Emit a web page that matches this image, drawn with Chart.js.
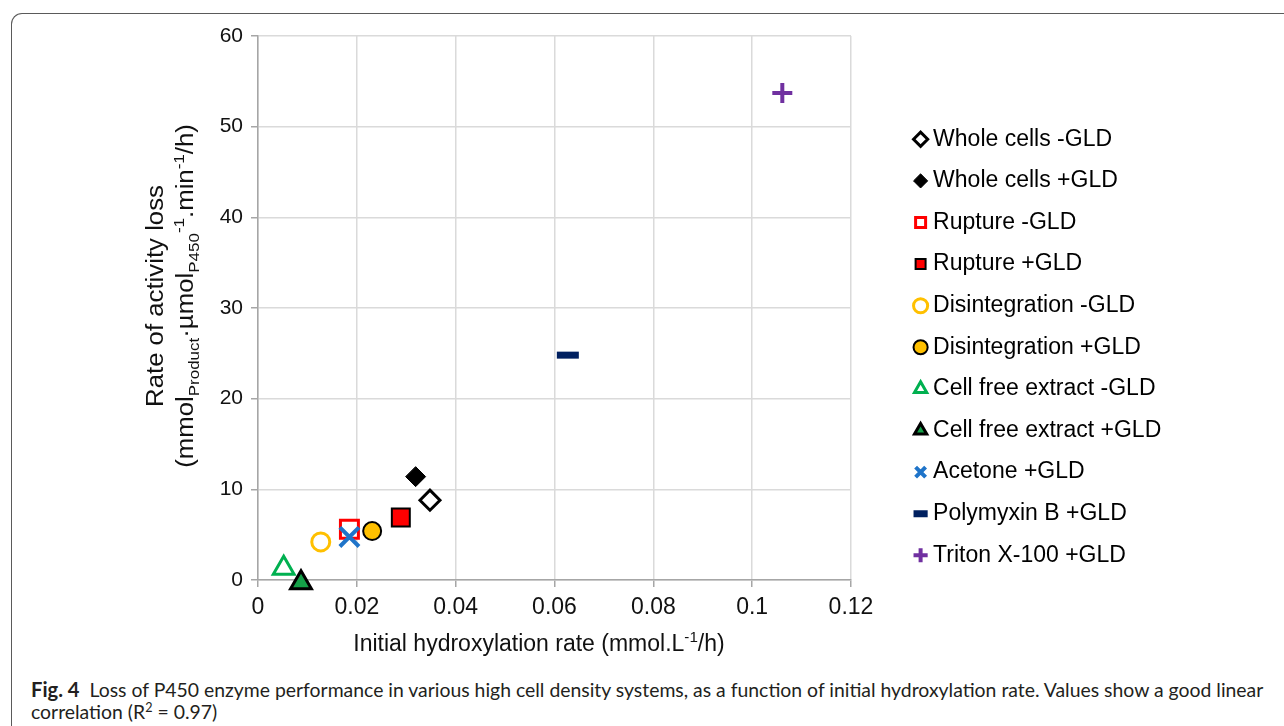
<!DOCTYPE html>
<html>
<head>
<meta charset="utf-8">
<script src="https://cdn.jsdelivr.net/npm/chart.js@4.4.1/dist/chart.umd.min.js"></script>
<style>
  html, body { margin: 0; padding: 0; background: #fff; }
  body { width: 1284px; height: 726px; position: relative; overflow: hidden; font-family: 'Liberation Sans', Arial, sans-serif; color: #111; }
  #card { position: absolute; left: 11px; top: 13px; width: 1300px; height: 760px; border-top: 1.5px solid #5a5a5a; border-left: 1.5px solid #5a5a5a; border-top-left-radius: 11px; }
  #chart { position: absolute; left: 0; top: 0; }
  .axis-title { position: absolute; white-space: nowrap; font-size: 23px; line-height: 26px; color: #111; }
  .axis-title sub, .axis-title sup { font-size: 0.66em; line-height: 0; }
  .rot { transform: translate(-50%, -50%) rotate(-90deg) scaleX(1.12); }
  #x-title { left: 339px; top: 630px; width: 400px; text-align: center; }
  #caption { position: absolute; left: 31px; top: 678px; font-family: Lato, 'Open Sans', sans-serif; font-size: 19.4px; line-height: 22px; color: #231f20; white-space: nowrap; }
  #caption b { font-weight: 700; font-size: 1.04em; }
  #caption sup { font-size: 0.65em; line-height: 0; }
</style>
</head>
<body>
<div id="card"></div>
<canvas id="chart" width="1284" height="630"></canvas>
<div class="axis-title rot" style="left:155px; top:296px;">Rate of activity loss</div>
<div class="axis-title rot" style="left:185px; top:296px;">(mmol<sub>Product</sub>·µmol<sub>P450</sub><sup>-1</sup>.min<sup>-1</sup>/h)</div>
<div class="axis-title" id="x-title">Initial hydroxylation rate (mmol.L<sup>-1</sup>/h)</div>
<div id="caption"><b>Fig. 4</b>&nbsp; Loss of P450 enzyme performance in various high cell density systems, as a function of initial hydroxylation rate. Values show a good linear<br>correlation (R<sup>2</sup> = 0.97)</div>
<script>
// ─── Data ───
const seriesNames = [
  'Whole cells -GLD', 'Whole cells +GLD', 'Rupture -GLD', 'Rupture +GLD',
  'Disintegration -GLD', 'Disintegration +GLD', 'Cell free extract -GLD',
  'Cell free extract +GLD', 'Acetone +GLD', 'Polymyxin B +GLD', 'Triton X-100 +GLD'
];
const hydroxylationRate = [0.0348, 0.0319, 0.0185, 0.0289, 0.0127, 0.0231, 0.0052, 0.0087, 0.0185, 0.0627, 0.1061];
const activityLossRate = [8.8, 11.4, 5.6, 6.9, 4.2, 5.4, 1.3, -0.3, 4.75, 24.8, 53.7];
const xTickLabels = ['0', '0.02', '0.04', '0.06', '0.08', '0.1', '0.12'];
const yTickLabels = ['0', '10', '20', '30', '40', '50', '60'];

// Marker look per series (same order as seriesNames)
const markers = [
  { style: 'rectRot',  fill: '#ffffff', stroke: '#000000', width: 3, r: 10 },
  { style: 'rectRot',  fill: '#000000', stroke: '#000000', width: 1, r: 10 },
  { style: 'rect',     fill: '#ffffff', stroke: '#ff0000', width: 3, r: 12.7 },
  { style: 'rect',     fill: '#ff0000', stroke: '#000000', width: 2, r: 12.7 },
  { style: 'circle',   fill: '#ffffff', stroke: '#ffc000', width: 3, r: 9 },
  { style: 'circle',   fill: '#ffc000', stroke: '#000000', width: 2, r: 9 },
  { style: 'triangle', fill: '#ffffff', stroke: '#00b050', width: 3, r: 12 },
  { style: 'triangle', fill: '#15a048', stroke: '#000000', width: 3, r: 12 },
  { style: 'crossRot', fill: '#1f74c9', stroke: '#1f74c9', width: 4, r: 13.5 },
  { style: 'line',     fill: '#002060', stroke: '#002060', width: 7, r: 11 },
  { style: 'cross',    fill: '#7030a0', stroke: '#7030a0', width: 4, r: 10 },
];

const FONT = "'Liberation Sans', Arial, sans-serif";

const datasets = seriesNames.map((name, i) => ({
  label: name,
  data: [{ x: hydroxylationRate[i], y: activityLossRate[i] }],
  pointStyle: markers[i].style,
  pointBackgroundColor: markers[i].fill,
  pointBorderColor: markers[i].stroke,
  pointBorderWidth: markers[i].width,
  pointRadius: markers[i].r,
  pointHoverRadius: markers[i].r,
  backgroundColor: markers[i].fill,
  borderColor: markers[i].stroke,
  showLine: false,
  clip: false,
  // acetone cross sits on top of the rupture square
  order: name === 'Acetone +GLD' ? -1 : 0,
}));

// Move the legend block to where it sits in the figure (and let it run to the edge)
const legendPlacer = {
  id: 'legendPlacer',
  afterLayout(chart) {
    const lg = chart.legend;
    if (!lg) return;
    const dy = 109.2 - lg.top;
    lg.left = 901;
    lg.right = chart.width;
    lg.width = lg.right - lg.left;
    lg.top += dy; lg.bottom += dy;
  }
};

new Chart(document.getElementById('chart'), {
  type: 'scatter',
  data: { datasets },
  plugins: [legendPlacer],
  options: {
    responsive: false,
    devicePixelRatio: 1,
    animation: false,
    layout: { padding: { left: 0, top: 36, right: 233, bottom: 0 } },
    plugins: {
      tooltip: { enabled: false },
      legend: {
        position: 'right',
        align: 'start',
        maxWidth: 200,
        labels: {
          usePointStyle: true,
          boxWidth: 2,
          boxHeight: 10,
          padding: 18.6,
          color: '#000',
          font: { family: FONT, size: 23 },
          sort: (a, b) => a.datasetIndex - b.datasetIndex,
        },
      },
    },
    scales: {
      x: {
        type: 'linear',
        min: 0,
        max: 0.12,
        afterFit: s => { s.height = 50; },
        ticks: {
          stepSize: 0.02,
          color: '#111',
          padding: 9.5,
          font: { family: FONT, size: 23, lineHeight: 1 },
          callback: (v, i) => xTickLabels[i],
        },
        grid: { color: '#dadada', lineWidth: 1.5, tickLength: 7, tickColor: '#a6a6a6' },
        border: { color: '#a6a6a6', width: 1.5 },
      },
      y: {
        min: 0,
        max: 60,
        afterFit: s => { s.width = 258; },
        ticks: {
          stepSize: 10,
          color: '#111',
          padding: 8,
          font: { family: FONT, size: 21 },
          callback: (v, i) => yTickLabels[i],
        },
        grid: { color: '#dadada', lineWidth: 1.5, tickLength: 7, tickColor: '#a6a6a6' },
        border: { color: '#a6a6a6', width: 1.5 },
      },
    },
  },
});
</script>
</body>
</html>
